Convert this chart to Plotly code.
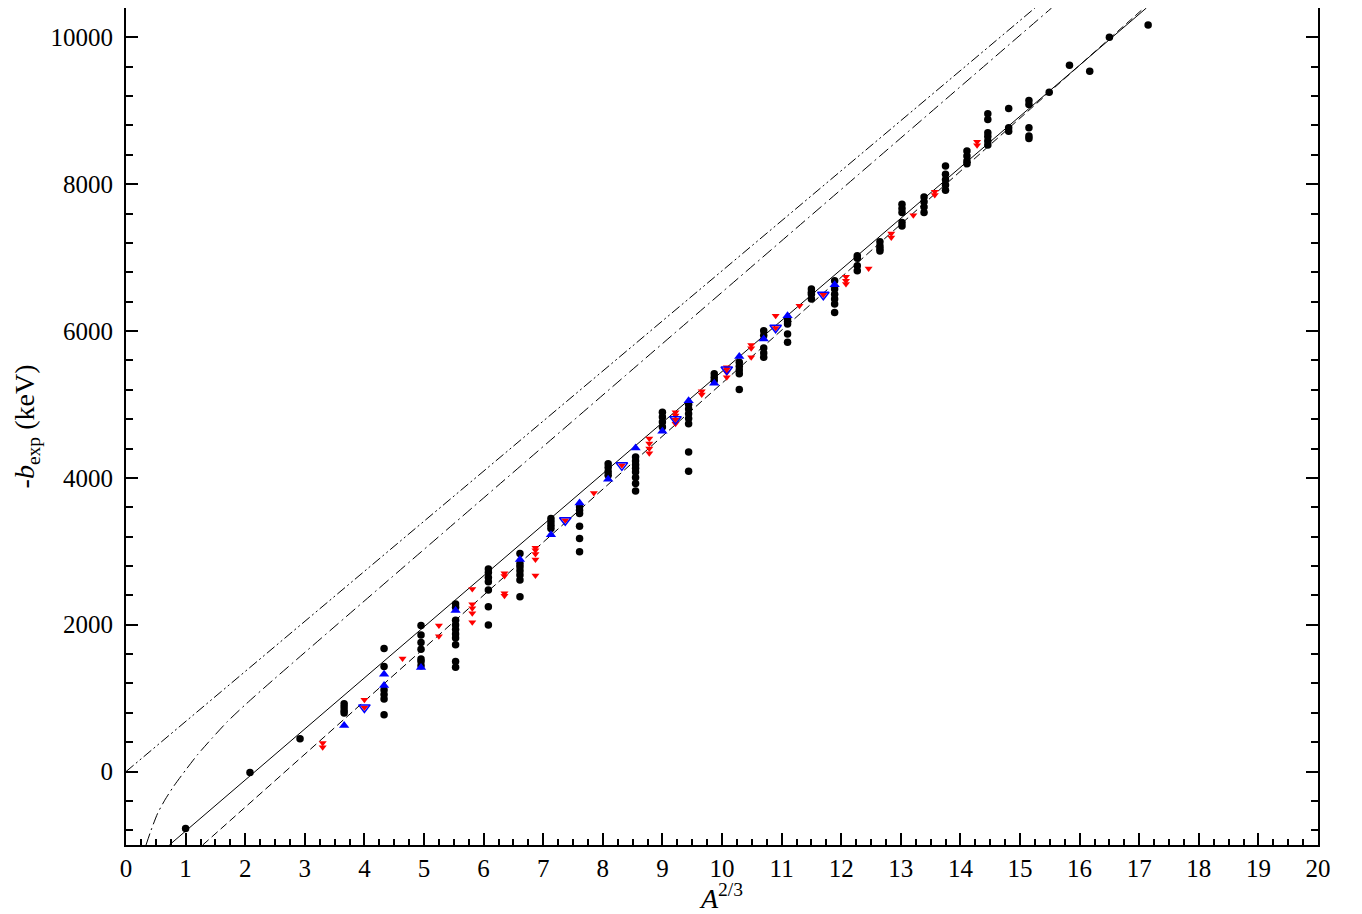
import plotly.graph_objects as go

# ---- data ----
# black circles (x = A^(2/3), y = -b_exp in keV)
circ_x = [1.00, 2.08, 2.92,
          3.66, 3.66, 3.66, 3.66,
          4.33, 4.33, 4.33, 4.33, 4.33, 4.33,
          4.95, 4.95, 4.95, 4.95, 4.95, 4.95, 4.95,
          5.53, 5.53, 5.53, 5.53, 5.53, 5.53, 5.53, 5.53, 5.53, 5.53,
          6.08, 6.08, 6.08, 6.08, 6.08, 6.08, 6.08,
          6.61, 6.61, 6.61, 6.61, 6.61, 6.61, 6.61,
          7.13, 7.13, 7.13, 7.13,
          7.61, 7.61, 7.61, 7.61, 7.61, 7.61,
          8.09, 8.09, 8.09, 8.09,
          8.55, 8.55, 8.55, 8.55, 8.55, 8.55, 8.55, 8.55,
          9.00, 9.00, 9.00, 9.00,
          9.44, 9.44, 9.44, 9.44, 9.44, 9.44, 9.44,
          9.87, 9.87, 9.87,
          10.29, 10.29, 10.29, 10.29, 10.29,
          10.70, 10.70, 10.70, 10.70, 10.70,
          11.10, 11.10, 11.10, 11.10, 11.10,
          11.50, 11.50, 11.50, 11.50,
          11.89, 11.89, 11.89, 11.89, 11.89, 11.89,
          12.27, 12.27, 12.27, 12.27,
          12.65, 12.65, 12.65, 12.65,
          13.02, 13.02, 13.02, 13.02, 13.02,
          13.39, 13.39, 13.39, 13.39,
          13.75, 13.75, 13.75, 13.75, 13.75,
          14.11, 14.11, 14.11, 14.11,
          14.46, 14.46, 14.46, 14.46, 14.46, 14.46,
          14.81, 14.81, 14.81,
          15.15, 15.15, 15.15, 15.15, 15.15,
          15.49, 15.83, 16.17, 16.50, 17.15]
circ_y = [-774, -14, 448,
          924, 879, 833, 797,
          1675, 1431, 1110, 1051, 988, 774,
          1988, 1861, 1757, 1667, 1535, 1499, 1440,
          2283, 2238, 2060, 1997, 1935, 1875, 1820, 1726, 1499, 1422,
          2758, 2713, 2645, 2586, 2473, 2246, 1997,
          2971, 2835, 2789, 2735, 2677, 2609, 2382,
          3447, 3401, 3356, 3311,
          3605, 3560, 3515, 3342, 3175, 2993,
          4194, 4140, 4085, 4035,
          4284, 4230, 4180, 4130, 4080, 4004, 3922, 3822,
          4895, 4830, 4762, 4692,
          5000, 4937, 4874, 4810, 4738, 4352, 4090,
          5417, 5370, 5326,
          5575, 5520, 5470, 5417, 5204,
          6005, 5938, 5770, 5700, 5643,
          6168, 6130, 6096, 5960, 5846,
          6572, 6530, 6500, 6436,
          6685, 6572, 6500, 6436, 6368, 6254,
          7024, 6993, 6889, 6821,
          7215, 7160, 7120, 7092,
          7726, 7670, 7613, 7477, 7432,
          7826, 7760, 7690, 7613,
          8247, 8134, 8062, 7990, 7917,
          8451, 8383, 8315, 8280,
          8958, 8881, 8700, 8650, 8590, 8533,
          9031, 8768, 8723,
          9139, 9085, 8768, 8655, 8624,
          9253, 9620, 9538, 10000, 10167]

# red filled down-triangles
red_x = [3.30, 3.30, 4.00, 4.00, 4.64, 5.25, 5.25,
         5.81, 5.81, 5.81, 5.81, 5.81,
         6.35, 6.35, 6.35, 6.35,
         6.87, 6.87, 6.87, 6.87, 6.87,
         7.37, 7.85, 8.32,
         8.78, 8.78, 8.78, 8.78,
         9.22, 9.22, 9.22, 9.22,
         9.66, 9.66,
         10.08, 10.08, 10.08, 10.08,
         10.49, 10.49, 10.49,
         10.90, 10.90, 11.30, 11.70,
         12.08, 12.08, 12.08, 12.46,
         12.84, 12.84, 13.21, 13.57, 13.57,
         14.28, 14.28]
red_y = [390, 330, 978, 874, 1540, 1988, 1843,
         2486, 2278, 2224, 2156, 2033,
         2700, 2663, 2428, 2395,
         3047, 3016, 2962, 2890, 2672,
         3424, 3795, 4171,
         4538, 4470, 4402, 4334,
         4895, 4851, 4792, 4738,
         5181, 5136,
         5507, 5476, 5437, 5370,
         5811, 5765, 5643,
         6209, 6042, 6345, 6495,
         6739, 6685, 6640, 6852,
         7327, 7273, 7577, 7898, 7853,
         8580, 8530]

# blue filled up-triangles
blue_up_x = [3.66, 4.33, 4.33, 4.95, 5.53, 6.61, 7.13, 7.61, 8.09,
             8.55, 9.00, 9.44, 9.87, 10.29, 10.70, 11.10, 11.89]
blue_up_y = [629, 1327, 1173, 1417, 2195, 2890, 3227, 3657, 3981,
             4406, 4637, 5050, 5290, 5652, 5893, 6209, 6630]

# blue open down-triangles
blue_dn_x = [4.00, 7.37, 8.32, 9.22, 10.08, 10.90, 11.70]
blue_dn_y = [874, 3424, 4171, 4800, 5476, 6046, 6495]

# model lines (points read at the frame crossings)
solid_x = [0.727, 17.12]
solid_y = [-1000, 10400]
dash_x = [1.287, 17.08]
dash_y = [-1000, 10400]
dashdot_x = [0.336, 0.42, 0.53, 0.65, 0.80, 1.00, 1.20, 1.45, 1.70, 2.00, 2.50, 15.53]
dashdot_y = [-1000, -800, -570, -390, -200, 20, 230, 460, 680, 910, 1270, 10400]
dashdotdot_x = [0.0, 15.25]
dashdotdot_y = [0, 10400]

FONT = "Liberation Serif, Times New Roman, Times, DejaVu Serif, serif"

fig = go.Figure()
fig.add_trace(go.Scatter(x=dashdotdot_x, y=dashdotdot_y, mode="lines",
                         line=dict(color="black", width=1, dash="10px,3px,2px,3px,2px,3px")))
fig.add_trace(go.Scatter(x=dashdot_x, y=dashdot_y, mode="lines",
                         line=dict(color="black", width=1, dash="12px,4px,2px,4px", shape="spline", smoothing=0.6)))
fig.add_trace(go.Scatter(x=dash_x, y=dash_y, mode="lines",
                         line=dict(color="black", width=1, dash="8px,4px")))
fig.add_trace(go.Scatter(x=solid_x, y=solid_y, mode="lines",
                         line=dict(color="black", width=1)))
fig.add_trace(go.Scatter(x=circ_x, y=circ_y, mode="markers",
                         marker=dict(symbol="circle", size=7.5, color="black")))
fig.add_trace(go.Scatter(x=red_x, y=red_y, mode="markers",
                         marker=dict(symbol="triangle-down", size=7, color="#ff0000")))
fig.add_trace(go.Scatter(x=blue_up_x, y=blue_up_y, mode="markers",
                         marker=dict(symbol="triangle-up", size=9, color="#0000ff")))
fig.add_trace(go.Scatter(x=blue_dn_x, y=blue_dn_y, mode="markers",
                         marker=dict(symbol="triangle-down-open", size=10,
                                     color="#0000ff", line=dict(width=1.5, color="#0000ff"))))

# page body has an 8px margin: size the figure so that the plot frame lands
# on the reference's pixel positions inside the 1362x914 window
fig.update_layout(
    width=1346, height=906,
    margin=dict(l=118, r=36, t=0, b=69, autoexpand=False),
    paper_bgcolor="white", plot_bgcolor="white",
    showlegend=False,
    font=dict(family=FONT, size=25, color="black"),
)
fig.update_xaxes(
    range=[0, 20], tick0=0, dtick=1, ticks="inside", ticklen=12, tickwidth=1.5,
    tickcolor="black", showgrid=False, zeroline=False, automargin=True,
    showline=True, linecolor="black", linewidth=2, mirror=True,
    minor=dict(dtick=0.25, ticks="inside", ticklen=6, tickwidth=1.5, tickcolor="black", showgrid=False),
    tickfont=dict(family=FONT, size=25, color="black"),
    title=dict(text="<i>A</i><sup>2/3</sup>", font=dict(family=FONT, size=28, color="black"), standoff=8),
)
fig.update_yaxes(
    range=[-1000, 10400], tick0=0, dtick=2000, ticks="inside", ticklen=12, tickwidth=1.5,
    tickcolor="black", showgrid=False, zeroline=False, automargin=True,
    tickformat="d", exponentformat="none", ticklabelstandoff=6,
    showline=True, linecolor="black", linewidth=2, mirror="ticks",
    minor=dict(dtick=400, tick0=0, ticks="inside", ticklen=7, tickwidth=1.5, tickcolor="black", showgrid=False),
    tickfont=dict(family=FONT, size=25, color="black"),
    title=dict(text="-<i>b</i><sub>exp</sub> (keV)", font=dict(family=FONT, size=28, color="black"), standoff=8),
)

fig.write_html("out.html")
